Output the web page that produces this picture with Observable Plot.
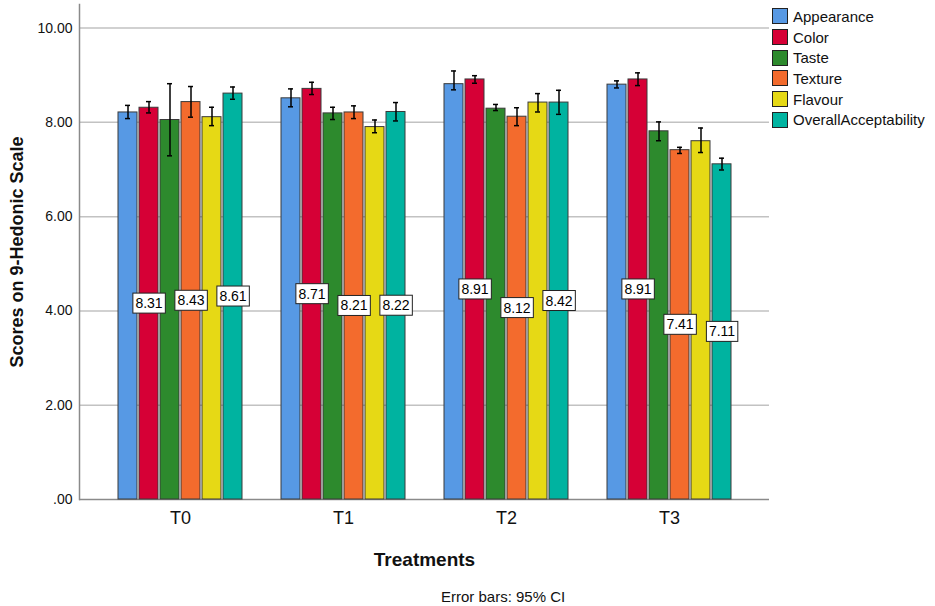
<!DOCTYPE html>
<html>
<head>
<meta charset="utf-8">
<script src="https://cdn.jsdelivr.net/npm/d3@7"></script>
<script src="https://cdn.jsdelivr.net/npm/@observablehq/plot@0.6"></script>
<style>
  body { margin: 0; background: #fff; font-family: "Liberation Sans", Arial, sans-serif; }
  #wrap { position: relative; width: 935px; height: 580px; }
  #wrap svg { position: absolute; left: 0; top: 0; overflow: visible; }
  [aria-label="x-axis label"] { font-size: 19px; font-weight: bold; }
  [aria-label="y-axis label"] { font-size: 18px; font-weight: bold; }
  #legend { position: absolute; left: 772px; top: 6px; font-size: 15px; color: #111; }
  #legend .row { display: flex; align-items: center; height: 20.7px; white-space: nowrap; }
  #legend .sw { width: 14px; height: 14px; border: 1px solid #222; margin-right: 5px; box-sizing: content-box; }
  #caption { position: absolute; left: 441px; top: 587px; font-size: 15px; line-height: 20px; color: #111; }
</style>
</head>
<body>
<div id="wrap"><div id="legend"></div></div>
<div id="caption">Error bars: 95% CI</div>
<script>
// ---- data ----
const treatments = ["T0", "T1", "T2", "T3"];
const attributes = ["Appearance", "Color", "Taste", "Texture", "Flavour", "OverallAcceptability"];
const colors = ["#5799E4", "#D60036", "#2D8A2D", "#F36B2D", "#E6D915", "#00B3A0"];

const appearance = [8.21, 8.51, 8.81, 8.80];
const color      = [8.31, 8.71, 8.91, 8.91];
const taste      = [8.05, 8.19, 8.29, 7.81];
const texture    = [8.43, 8.21, 8.12, 7.41];
const flavour    = [8.11, 7.90, 8.42, 7.60];
const overall    = [8.61, 8.22, 8.42, 7.11];

const appearanceLo = [8.08, 8.33, 8.69, 8.73], appearanceHi = [8.36, 8.71, 9.09, 8.88];
const colorLo      = [8.20, 8.59, 8.83, 8.78], colorHi      = [8.44, 8.85, 8.99, 9.05];
const tasteLo      = [7.29, 8.06, 8.25, 7.61], tasteHi      = [8.82, 8.32, 8.38, 8.01];
const textureLo    = [8.11, 8.08, 7.93, 7.34], textureHi    = [8.76, 8.35, 8.31, 7.47];
const flavourLo    = [7.93, 7.78, 8.22, 7.36], flavourHi    = [8.32, 8.05, 8.61, 7.88];
const overallLo    = [8.49, 8.03, 8.17, 6.99], overallHi    = [8.75, 8.42, 8.68, 7.24];

const labelledAttributes = ["Color", "Texture", "OverallAcceptability"];
const yTicks = [0, 2, 4, 6, 8, 10];

// ---- table ----
const series = [
  [appearance, appearanceLo, appearanceHi],
  [color, colorLo, colorHi],
  [taste, tasteLo, tasteHi],
  [texture, textureLo, textureHi],
  [flavour, flavourLo, flavourHi],
  [overall, overallLo, overallHi]
];
const rows = [];
treatments.forEach((t, ti) => {
  attributes.forEach((a, ai) => {
    const [m, lo, hi] = series[ai];
    rows.push({group: t, attr: a, mean: m[ti], lo: lo[ti], hi: hi[ti]});
  });
});
const labelRows = rows.filter(d => labelledAttributes.includes(d.attr));

const W = 935, H = 580;
const margins = {marginLeft: 79, marginRight: 166, marginTop: 4, marginBottom: 81};
const font = "'Liberation Sans', Arial, sans-serif";
const fxOpts = {domain: treatments, paddingInner: 0.204, paddingOuter: 0.214};

// background: grid, axes
const bg = Plot.plot({
  width: W, height: H, ...margins,
  style: {background: "transparent", fontFamily: font, color: "#111"},
  x: {type: "band", ...fxOpts},
  y: {domain: [0, 10.5]},
  marks: [
    Plot.gridY(yTicks.filter(d => d > 0), {stroke: "#c2c2c2", strokeOpacity: 1, strokeWidth: 1.5}),
    Plot.ruleY([0], {stroke: "#8a8a8a", strokeWidth: 1.5}),
    Plot.frame({anchor: "left", stroke: "#8a8a8a", strokeWidth: 1.5}),
    Plot.axisY({ticks: yTicks, tickFormat: d => d === 0 ? ".00" : d.toFixed(2), tickSize: 0, tickPadding: 7,
      fontSize: 14, label: "Scores on 9-Hedonic Scale", labelAnchor: "center", labelOffset: 69, labelArrow: "none"}),
    Plot.axisX({tickSize: 0, tickPadding: 12, fontSize: 18, label: "Treatments", labelAnchor: "center", labelOffset: 66, labelArrow: "none"})
  ]
});

// foreground: grouped bars
const fg = Plot.plot({
  width: W, height: H, ...margins,
  style: {background: "transparent", fontFamily: font},
  fx: {...fxOpts, axis: null, label: null},
  x: {domain: attributes, paddingInner: 0.08, paddingOuter: 0, axis: null},
  y: {domain: [0, 10.5], axis: null},
  color: {domain: attributes, range: colors},
  marks: [
    Plot.barY(rows, {fx: "group", x: "attr", y: "mean", fill: "attr", stroke: "#3a3a3a", strokeWidth: 1}),
    Plot.ruleX(rows, {fx: "group", x: "attr", y1: "lo", y2: "hi", stroke: "#000", strokeWidth: 1.5}),
    Plot.tickY(rows, {fx: "group", x: "attr", y: "lo", insetLeft: 7, insetRight: 7, stroke: "#000", strokeWidth: 1.5}),
    Plot.tickY(rows, {fx: "group", x: "attr", y: "hi", insetLeft: 7, insetRight: 7, stroke: "#000", strokeWidth: 1.5}),
    Plot.text(labelRows, {fx: "group", x: "attr", y: d => d.mean / 2, text: d => d.mean.toFixed(2),
      fontSize: 14, fill: "#000", className: "vlabel"})
  ]
});

const wrap = document.getElementById("wrap");
wrap.insertBefore(bg, wrap.firstChild);
wrap.insertBefore(fg, document.getElementById("legend"));

// white boxes behind value labels
fg.querySelectorAll(".vlabel text").forEach(t => {
  const b = t.getBBox();
  const r = document.createElementNS("http://www.w3.org/2000/svg", "rect");
  r.setAttribute("x", b.x - 2.5);
  r.setAttribute("y", b.y - 2);
  r.setAttribute("width", b.width + 5);
  r.setAttribute("height", b.height + 4);
  r.setAttribute("fill", "#fff");
  r.setAttribute("stroke", "#222");
  r.setAttribute("stroke-width", 1);
  const tr = t.getAttribute("transform");
  if (tr) r.setAttribute("transform", tr);
  t.parentNode.insertBefore(r, t);
});

// legend
const legend = document.getElementById("legend");
attributes.forEach((a, i) => {
  const row = document.createElement("div");
  row.className = "row";
  const sw = document.createElement("span");
  sw.className = "sw";
  sw.style.background = colors[i];
  const lab = document.createElement("span");
  lab.textContent = a;
  row.appendChild(sw);
  row.appendChild(lab);
  legend.appendChild(row);
});
</script>
</body>
</html>
